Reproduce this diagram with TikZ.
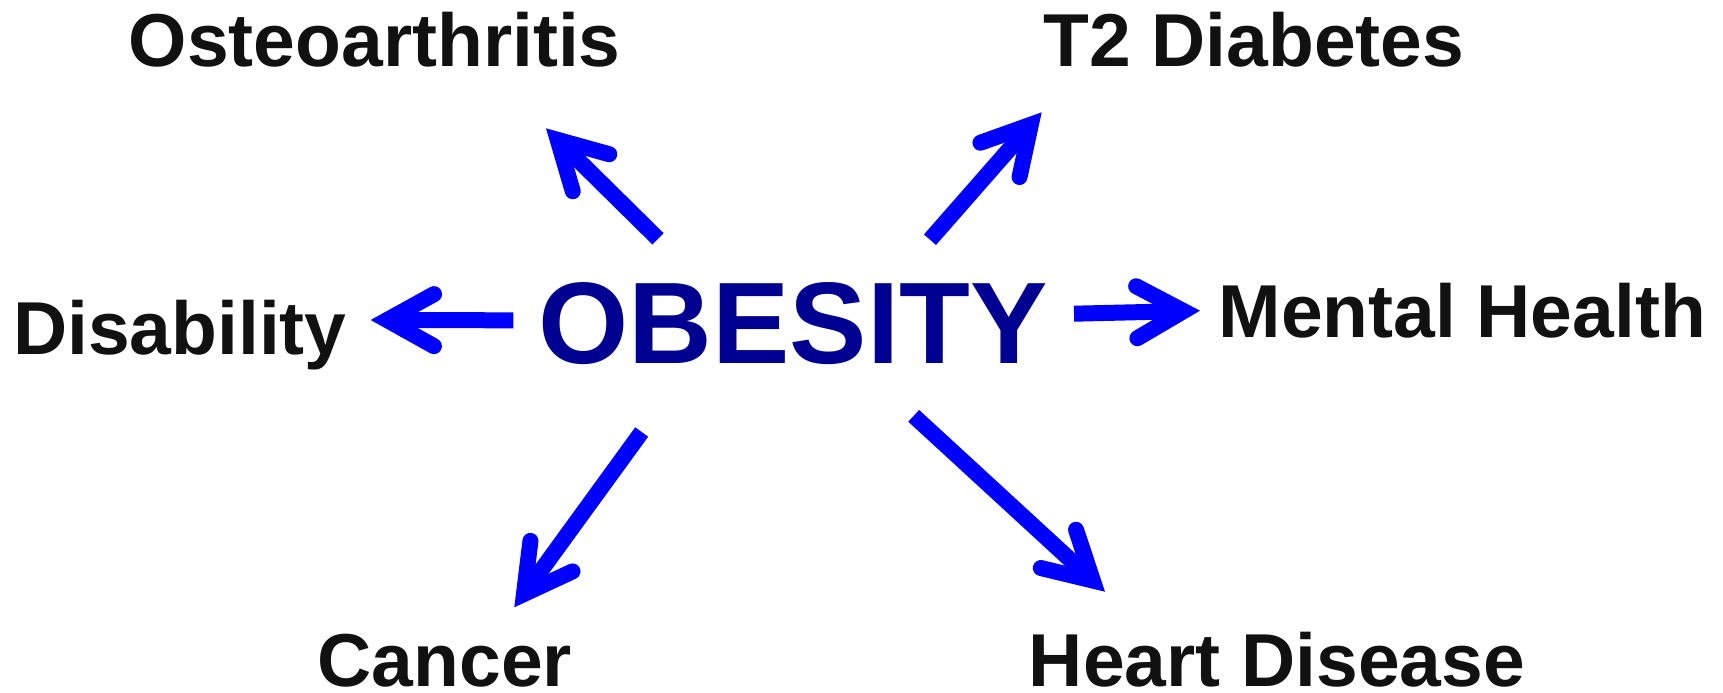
\documentclass[tikz,border=0pt]{standalone}
\usepackage{fontspec}
\setmainfont{Liberation Sans}
\usetikzlibrary{arrows.meta}
\definecolor{arrblue}{RGB}{0,0,255}
\definecolor{obeblue}{RGB}{0,0,145}
\definecolor{labelblack}{RGB}{17,17,17}
\begin{document}
\begin{tikzpicture}[x=0.5pt,y=-0.5pt,
  lbl/.style={font=\bfseries\fontsize{37.5}{40}\selectfont, text=labelblack, inner sep=0pt, anchor=base},
  center/.style={font=\bfseries\fontsize{58}{60}\selectfont, text=obeblue, inner sep=0pt, anchor=base},
  arr/.style={draw=arrblue, line width=8pt, line cap=butt,
    -{Straight Barb[length=23.4pt,width=26pt,line cap=round,line join=miter]}}]
\useasboundingbox (0,0) rectangle (1723,692);
% labels
\node[lbl] (oa) at (374.8,66) {Osteoarthritis};
\node[lbl] (t2) at (1253.7,66) {T2 Diabetes};
\node[lbl] (dis) at (179.9,354) {Disability};
\node[lbl] (mh) at (1462.3,337.5) {Mental Health};
\node[lbl] (can) at (444.8,686.5) {Cancer};
\node[lbl] (hd) at (1277,686.5) {Heart Disease};
\node[center] (obe) at (793,363.5) {OBESITY};
% arrow end points
\coordinate (s1) at (658,238.8);   \coordinate (e1) at (546,128.3);
\coordinate (s2) at (930,239.7);   \coordinate (e2) at (1041.7,112.3);
\coordinate (s3) at (513.3,320.3); \coordinate (e3) at (370.7,320);
\coordinate (s4) at (1074,313.7);  \coordinate (e4) at (1200,310.7);
\coordinate (s5) at (641.7,432);   \coordinate (e5) at (514.3,607.3);
\coordinate (s6) at (913.7,415.8); \coordinate (e6) at (1105,591.7);
\draw[arr] (s1) -- (e1);
\draw[arr] (s2) -- (e2);
\draw[arr] (s3) -- (e3);
\draw[arr] (s4) -- (e4);
\draw[arr] (s5) -- (e5);
\draw[arr] (s6) -- (e6);
\end{tikzpicture}
\end{document}
